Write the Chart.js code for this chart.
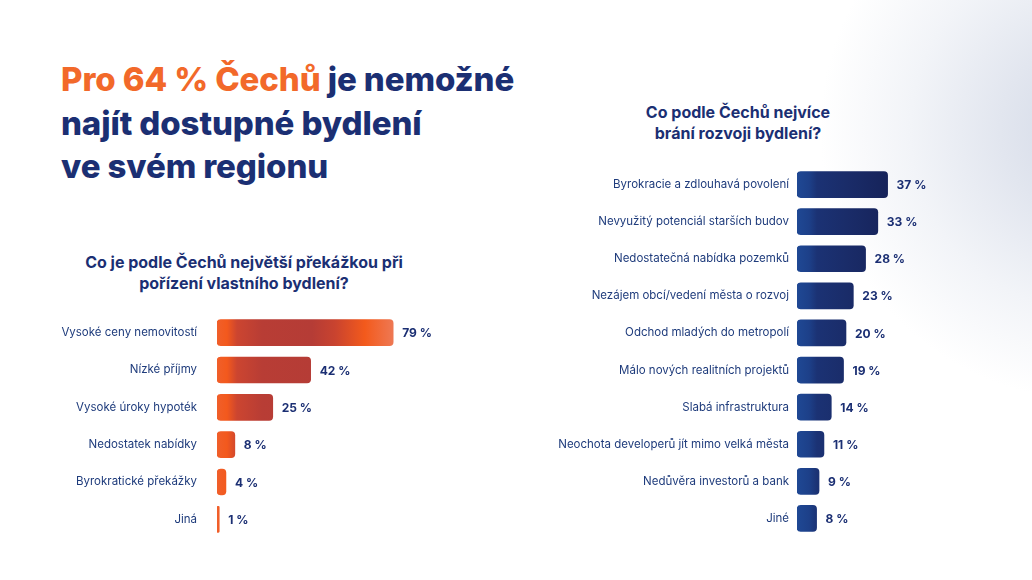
<!DOCTYPE html>
<html lang="cs">
<head>
    <meta charset="UTF-8">
    <title>Překážky bydlení</title>
    <script src="https://cdn.jsdelivr.net/npm/chart.js"></script>
    <style>
        html, body { margin: 0; padding: 0; }
        body {
            width: 1032px;
            height: 580px;
            overflow: hidden;
            position: relative;
            font-family: Inter, "Noto Sans", sans-serif;
            background: radial-gradient(circle at 1090px 130px, #d3d9e7 0px, #e2e6ef 90px, #f2f4f8 180px, #ffffff 270px);
        }
        .headline {
            position: absolute;
            left: 61px;
            top: 58px;
            margin: 0;
            font-size: 33px;
            line-height: 43.5px;
            font-weight: 800;
            letter-spacing: -0.1px;
            color: #1b2f73;
        }
        .headline .accent { color: #f2692a; }
        .subtitle {
            position: absolute;
            margin: 0;
            font-size: 16px;
            line-height: 21px;
            font-weight: 700;
            color: #1b2f73;
            text-align: center;
        }
        #leftTitle { left: 44px; width: 400px; top: 252px; }
        #rightTitle { left: 538px; width: 400px; top: 102px; }
        .chartBox { position: absolute; }
        #leftBox { left: 0px; top: 314px; width: 440px; height: 224px; }
        #rightBox { left: 540px; top: 166px; width: 417px; height: 371px; }
    </style>
</head>
<body>
    <h1 class="headline"><span class="accent">Pro 64 % Čechů</span> je nemožné<br>najít dostupné bydlení<br>ve svém regionu</h1>

    <p class="subtitle" id="leftTitle">Co je podle Čechů největší překážkou při<br>pořízení vlastního bydlení?</p>
    <p class="subtitle" id="rightTitle">Co podle Čechů nejvíce<br>brání rozvoji bydlení?</p>

    <div class="chartBox" id="leftBox"><canvas id="leftChart"></canvas></div>
    <div class="chartBox" id="rightBox"><canvas id="rightChart"></canvas></div>

    <script>
        // left chart: biggest obstacle to buying own home
        const leftLabels = ['Vysoké ceny nemovitostí', 'Nízké příjmy', 'Vysoké úroky hypoték',
                            'Nedostatek nabídky', 'Byrokratické překážky', 'Jiná'];
        const leftValues = [79, 42, 25, 8, 4, 1];

        // right chart: what blocks housing development
        const rightLabels = ['Byrokracie a zdlouhavá povolení', 'Nevyužitý potenciál starších budov',
                             'Nedostatečná nabídka pozemků', 'Nezájem obcí/vedení města o rozvoj',
                             'Odchod mladých do metropolí', 'Málo nových realitních projektů',
                             'Slabá infrastruktura', 'Neochota developerů jít mimo velká města',
                             'Nedůvěra investorů a bank', 'Jiné'];
        const rightValues = [37, 33, 28, 23, 20, 19, 14, 11, 9, 8];

        const NAVY = '#1b2f73';
        Chart.defaults.font.family = 'Inter, "Noto Sans", sans-serif';

        // draws "xx %" right after each bar
        const valueLabels = {
            id: 'valueLabels',
            afterDatasetsDraw(chart) {
                const ctx = chart.ctx;
                const meta = chart.getDatasetMeta(0);
                const values = chart.data.datasets[0].data;
                ctx.save();
                ctx.font = '700 12px Inter, "Noto Sans", sans-serif';
                ctx.fillStyle = NAVY;
                ctx.textAlign = 'left';
                ctx.textBaseline = 'middle';
                meta.data.forEach((bar, i) => {
                    ctx.fillText(values[i] + ' %', bar.x + 9, bar.y + 1);
                });
                ctx.restore();
            }
        };

        // gradient runs along the axis up to the longest bar
        function orangeFill(context) {
            const chart = context.chart;
            const area = chart.chartArea;
            if (!area) return '#f05a1e';
            const x = chart.scales.x;
            const end = x.getPixelForValue(79);
            const w = end - area.left;
            const g = chart.ctx.createLinearGradient(area.left, 0, end, 0);
            g.addColorStop(0, '#f05f2a');
            g.addColorStop(10 / w, '#f3591d');
            g.addColorStop(20 / w, '#cc4530');
            g.addColorStop(45 / w, '#b83d35');
            g.addColorStop(95 / w, '#b53c36');
            g.addColorStop(118 / w, '#c9432f');
            g.addColorStop(148 / w, '#f35a1c');
            g.addColorStop(1, '#ee7853');
            return g;
        }

        function navyFill(context) {
            const chart = context.chart;
            const area = chart.chartArea;
            if (!area) return '#1a3274';
            const x = chart.scales.x;
            const end = x.getPixelForValue(37);
            const w = end - area.left;
            const g = chart.ctx.createLinearGradient(area.left, 0, end, 0);
            g.addColorStop(0, '#1f4894');
            g.addColorStop(12 / w, '#1d4089');
            g.addColorStop(20 / w, '#1b3274');
            g.addColorStop(50 / w, '#1a2c69');
            g.addColorStop(1, '#16235a');
            return g;
        }

        function makeChart(id, labels, values, fill, axisWidth, pad, max, rightPad) {
            new Chart(document.getElementById(id), {
                type: 'bar',
                data: {
                    labels: labels,
                    datasets: [{
                        data: values,
                        backgroundColor: fill,
                        borderWidth: 0,
                        borderRadius: 4,
                        borderSkipped: false,
                        barThickness: 26
                    }]
                },
                options: {
                    indexAxis: 'y',
                    responsive: true,
                    maintainAspectRatio: false,
                    animation: false,
                    layout: {
                        autoPadding: false,
                        padding: { left: 0, right: rightPad, top: 0, bottom: 0 }
                    },
                    plugins: {
                        legend: { display: false },
                        tooltip: { enabled: false }
                    },
                    scales: {
                        x: {
                            display: false,
                            min: 0,
                            max: max
                        },
                        y: {
                            afterFit: (axis) => {
                                axis.width = axisWidth;
                                // no extra space above/below the category band
                                axis.paddingTop = 0;
                                axis.paddingBottom = 0;
                            },
                            grid: { display: false, drawTicks: false },
                            border: { display: false },
                            ticks: {
                                padding: pad,
                                color: '#1f3c7c',
                                font: { size: 11.5 }
                            }
                        }
                    }
                },
                plugins: [valueLabels]
            });
        }

        makeChart('leftChart', leftLabels, leftValues, orangeFill, 217, 20, 100, 0);
        makeChart('rightChart', rightLabels, rightValues, navyFill, 257, 8, 49, 40);
    </script>
</body>
</html>
